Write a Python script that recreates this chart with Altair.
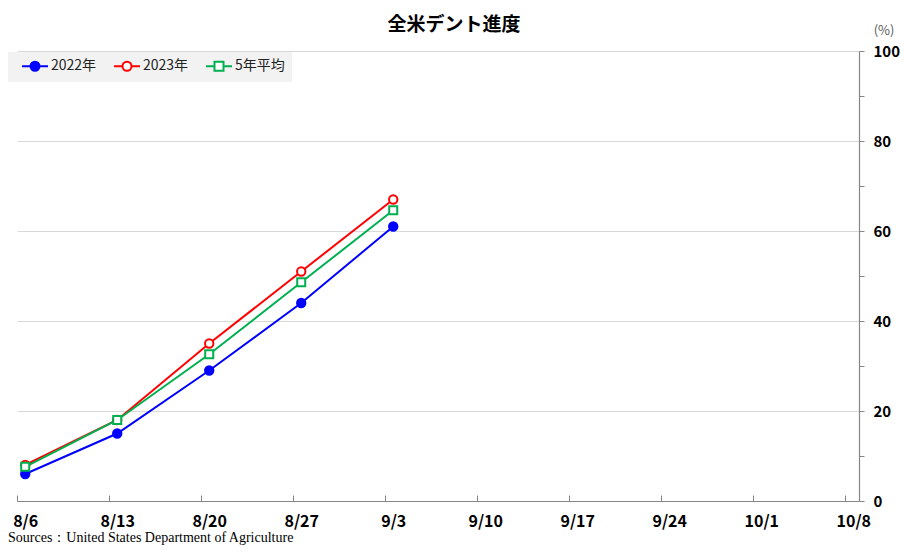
import altair as alt
import pandas as pd

# ---- data ----
DATES = ["2023-08-06", "2023-08-13", "2023-08-20", "2023-08-27", "2023-09-03"]
Y2022 = [6, 15, 29, 44, 61]
Y2023 = [8, 18, 35, 51, 67]
Y5AVG = [7.6, 18, 32.6, 48.6, 64.6]
SERIES = ["2022年", "2023年", "5年平均"]
STROKES = ["#0000ff", "#ff0000", "#00b050"]
FILLS = ["#0000ff", "#ffffff", "#ffffff"]
TICK_DATES = [(8, 6), (8, 13), (8, 20), (8, 27), (9, 3), (9, 10), (9, 17), (9, 24), (10, 1), (10, 8)]
Y_TICKS = list(range(0, 101, 10))
TITLE = "全米デント進度"
UNIT = "(%)"
SOURCE = "Sources：United States Department of Agriculture"

FONT = "Noto Sans CJK JP"

# legend symbols: line with marker (custom SVG paths)
CIRCLE_SYM = "M0,0H1.417M2.917,0H4.333M2.917,0A0.75,0.75,0,1,1,1.417,0A0.75,0.75,0,1,1,2.917,0Z"
SQUARE_SYM = "M0,0H1.417M2.917,0H4.333M1.417,-0.75H2.917V0.75H1.417Z"
LEGEND_SHAPES = [CIRCLE_SYM, CIRCLE_SYM, SQUARE_SYM]

rows = []
for name, vals in zip(SERIES, [Y2022, Y2023, Y5AVG]):
    for d, v in zip(DATES, vals):
        rows.append({"date": d, "value": v, "series": name})
df = pd.DataFrame(rows)

W, H = 842, 450

x_enc = alt.X(
    "date:T",
    scale=alt.Scale(
        type="utc",
        domain=[
            alt.DateTime(year=2023, month=8, date=5, hours=9, utc=True),
            alt.DateTime(year=2023, month=10, date=8, hours=10, minutes=30, utc=True),
        ],
    ),
    axis=alt.Axis(
        title=None,
        values=[alt.DateTime(year=2023, month=m, date=d, utc=True) for m, d in TICK_DATES],
        labelExpr="utcFormat(datum.value, '%-m/%-d')",
        grid=False,
        tickSize={"expr": "-6"},
        tickOffset=-8,
        labelOffset=8,
        labelPadding=18,
        labelFontSize=16,
        labelFontWeight="bold",
        labelFont=FONT,
        labelColor="#000000",
        labelFlush=False,
        labelOverlap=False,
    ),
)

y_enc = alt.Y(
    "value:Q",
    scale=alt.Scale(domain=[0, 100], nice=False, zero=True),
    axis=alt.Axis(
        title=None,
        orient="right",
        values=Y_TICKS,
        labelExpr="datum.value % 20 === 0 ? datum.label : ''",
        grid=True,
        gridOpacity={"condition": {"test": "datum.value % 20 === 0", "value": 1}, "value": 0},
        tickSize=5,
        labelPadding=9,
        labelFontSize=15,
        labelFontWeight="bold",
        labelFont=FONT,
        labelColor="#000000",
    ),
)

stroke_scale = alt.Scale(domain=SERIES, range=STROKES)
fill_scale = alt.Scale(domain=SERIES, range=FILLS)

legend_cfg = alt.Legend(
    title=None,
    orient="none",
    legendX=-9,
    legendY=1,
    direction="horizontal",
    fillColor="#f2f2f2",
    padding=7,
    symbolSize=144,
    symbolStrokeWidth=2,
    labelOffset=22,
    columnPadding=10,
    labelFont=FONT,
    labelFontSize=14,
    labelColor="#222222",
)

base = alt.Chart(df)

lines = base.mark_line(strokeWidth=2).encode(
    x=x_enc, y=y_enc,
    stroke=alt.Stroke("series:N", scale=stroke_scale, legend=legend_cfg),
    detail="series:N",
)

circles = base.transform_filter(
    alt.FieldOneOfPredicate(field="series", oneOf=SERIES[:2])
).mark_point(shape="circle", size=70, strokeWidth=2, opacity=1).encode(
    x=x_enc, y=y_enc,
    stroke=alt.Stroke("series:N", scale=stroke_scale, legend=legend_cfg),
    fill=alt.Fill("series:N", scale=fill_scale, legend=legend_cfg),
)

squares = base.transform_filter(
    alt.FieldEqualPredicate(field="series", equal=SERIES[2])
).mark_point(shape="square", size=64, strokeWidth=2, opacity=1).encode(
    x=x_enc, y=y_enc,
    stroke=alt.Stroke("series:N", scale=stroke_scale, legend=legend_cfg),
    fill=alt.Fill("series:N", scale=fill_scale, legend=legend_cfg),
)

legend_layer = base.transform_filter("false").mark_point(strokeWidth=2, opacity=1).encode(
    x=x_enc, y=y_enc,
    stroke=alt.Stroke("series:N", scale=stroke_scale, legend=legend_cfg),
    fill=alt.Fill("series:N", scale=fill_scale, legend=legend_cfg),
    shape=alt.Shape("series:N", scale=alt.Scale(domain=SERIES, range=LEGEND_SHAPES), legend=legend_cfg),
)

title_layer = alt.Chart(pd.DataFrame({"t": [TITLE]})).mark_text(
    font=FONT, fontSize=19, fontWeight="bold", color="#000000", align="center", baseline="middle"
).encode(text="t:N", x=alt.value(437), y=alt.value(-26))

unit_layer = alt.Chart(pd.DataFrame({"t": [UNIT]})).mark_text(
    font=FONT, fontSize=13, color="#595959", align="center", baseline="middle"
).encode(text="t:N", x=alt.value(867), y=alt.value(-20))

source_layer = alt.Chart(pd.DataFrame({"t": [SOURCE]})).mark_text(
    font="Liberation Serif", fontSize=14, color="#000000", align="left", baseline="alphabetic"
).encode(text="t:N", x=alt.value(-9), y=alt.value(491))

chart = alt.layer(
    lines, circles, squares, legend_layer, title_layer, unit_layer, source_layer
).properties(
    width=W, height=H,
    autosize=alt.AutoSizeParams(type="none"),
    padding={"left": 9, "top": 43, "right": 42, "bottom": 45},
).configure_view(stroke=None).configure_axis(
    domainColor="#868686", tickColor="#868686", gridColor="#d9d9d9", domainWidth=1.2
)

chart.save("out.html", embed_options={"renderer": "svg", "actions": False})
